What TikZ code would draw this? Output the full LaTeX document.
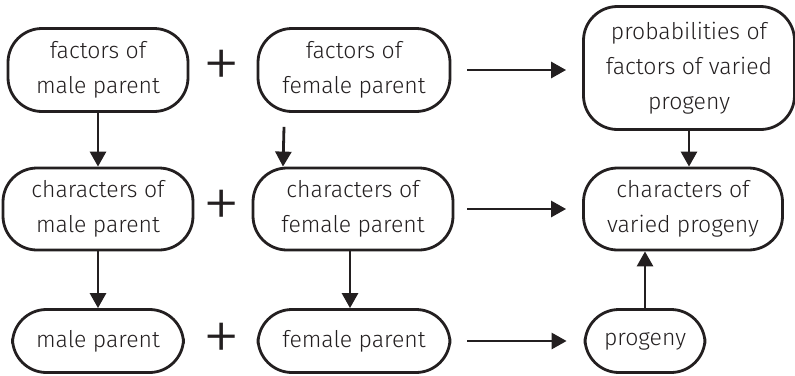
\documentclass[tikz,border=0pt]{standalone}
\usepackage{fontspec}
\setmainfont{Fira Sans Light}
\newfontfamily\plusfont{Fira Sans ExtraLight}
\usetikzlibrary{arrows.meta,positioning}
\definecolor{ink}{HTML}{231F20}
\tikzset{>={Triangle[width=16pt,length=15pt]}}

\begin{document}
\begin{tikzpicture}[x=1pt,y=-1pt,
    box/.style={draw=ink,line width=2.8pt,rounded corners=34pt,align=center,
        inner sep=0pt,text=ink,font=\fontsize{23}{35}\selectfont},
    plus/.style={text=ink,inner sep=0pt,font=\plusfont\fontsize{78}{78}\selectfont},
    link/.style={->,draw=ink,line width=2.8pt}]
\useasboundingbox (0,0) rectangle (795,375);

% factors
\node[box,minimum width=180pt,minimum height=83pt] (mfac) at (98,70) {factors of\\male parent};
\node[box,minimum width=192pt,minimum height=83pt] (ffac) at (354,70) {factors of\\female parent};
\node[box,minimum width=211pt,minimum height=123pt] (prob) at (689,68) {probabilities of\\factors of varied\\progeny};

% characters
\node[box,minimum width=190pt,minimum height=82pt] (mchar) at (98,209) {characters of\\male parent};
\node[box,minimum width=200pt,minimum height=82pt] (fchar) at (353,209) {characters of\\female parent};
\node[box,minimum width=199pt,minimum height=82pt] (vchar) at (683,209) {characters of\\varied progeny};

% parents
\node[box,minimum width=171pt,minimum height=63pt] (male) at (98,341) {male parent};
\node[box,minimum width=192pt,minimum height=63pt] (female) at (354,341) {female parent};
\node[box,minimum width=120pt,minimum height=63pt] (prog) at (645,341) {progeny};

\node[plus] (p1) at (222,70) {+};
\node[plus] (p2) at (222,210) {+};
\node[plus] (p3) at (222,343) {+};

\draw[link] (mfac) -- (mchar);
\draw[link] ([xshift=-70pt,yshift=-14pt]ffac.south) -- ([xshift=-70pt]fchar.north);
\draw[link] (mchar) -- (male);
\draw[link] ([xshift=-3pt]fchar.south) -- ([xshift=-3pt]fchar.south |- female.north);
\draw[link] (prob) -- (prob |- vchar.north);
\draw[link] (prog) -- (prog |- vchar.south);

\draw[link,shorten <=16pt,shorten >=16pt] (ffac.east) -- (ffac.east -| prob.west);
\draw[link,shorten <=13pt,shorten >=16pt] (fchar.east) -- (fchar.east -| vchar.west);
\draw[link,shorten <=16pt,shorten >=17pt] (female.east) -- (female.east -| prog.west);
\end{tikzpicture}
\end{document}
